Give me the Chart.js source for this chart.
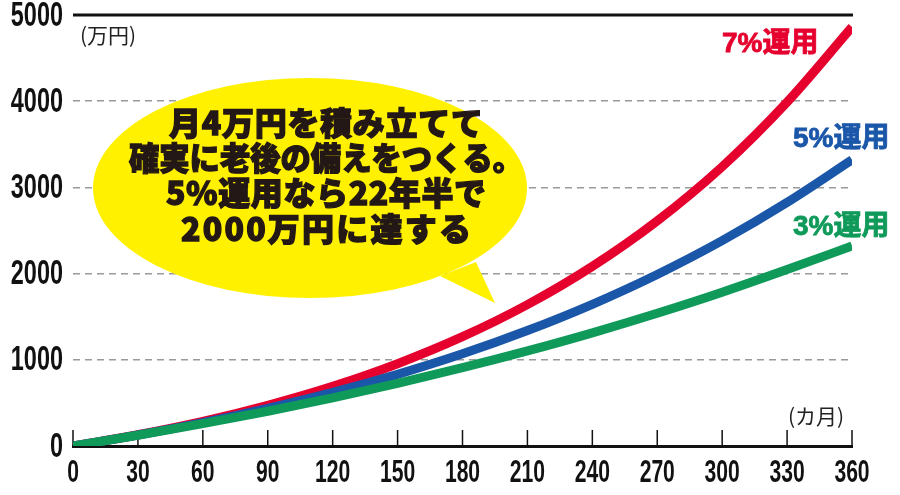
<!DOCTYPE html>
<html>
<head>
<meta charset="utf-8">
<script src="https://cdn.jsdelivr.net/npm/chart.js@4"></script>
<style>
  body { margin: 0; background: #fff; }
  canvas { display: block; }
</style>
</head>
<body>
<canvas id="chart" width="900" height="495"></canvas>
<script>
// months and balance (万円) for 40,000 yen a month
const months = [0, 30, 60, 90, 120, 150, 180, 210, 240, 270, 300, 330, 360];
const rate3 = [0, 124, 259, 403, 559, 727, 908, 1103, 1313, 1540, 1784, 2047, 2320];
const rate5 = [0, 128, 272, 436, 621, 831, 1069, 1339, 1644, 1990, 2382, 2826, 3320];
const rate7 = [0, 131, 286, 472, 692, 955, 1268, 1640, 2084, 2612, 3240, 3989, 4860];
const yTicks = [0, 1000, 2000, 3000, 4000, 5000];

const seriesNames = ['3%運用', '5%運用', '7%運用'];
const seriesColors = ['#0f9a5a', '#1b57a9', '#e5002e'];

const bubbleLines = ['月4万円を積み立てて', '確実に老後の備えをつくる。', '5%運用なら22年半で', '2000万円に達する'];

function toPoints(values) {
    return months.map((m, i) => ({ x: m, y: values[i] }));
}

// condensed bold numbers, squeezed horizontally
function narrowText(ctx, text, x, y, align, squeeze) {
    ctx.save();
    ctx.translate(x, y);
    ctx.scale(squeeze, 1);
    ctx.textAlign = align;
    ctx.fillText(text, 0, 0);
    ctx.restore();
}

// text spread out (or squeezed) to span a given width
function spreadText(ctx, text, cx, y, width) {
    ctx.letterSpacing = '0px';
    const natural = ctx.measureText(text).width;
    const n = Array.from(text).length;
    let gap = (width - natural) / (n - 1);
    if (gap < 0) {
        ctx.fillText(text, cx, y, width);
        ctx.strokeText(text, cx, y, width);
        return;
    }
    ctx.letterSpacing = gap + 'px';
    ctx.fillText(text, cx + gap / 2, y);
    ctx.strokeText(text, cx + gap / 2, y);
    ctx.letterSpacing = '0px';
}

const decor = {
    id: 'decor',
    beforeDatasetsDraw(chart) {
        const ctx = chart.ctx;
        const area = chart.chartArea;
        const y = chart.scales.y;
        const x = chart.scales.x;

        // solid top line at 5000
        ctx.save();
        ctx.strokeStyle = '#111';
        ctx.lineWidth = 3;
        ctx.beginPath();
        ctx.moveTo(area.left, y.getPixelForValue(5000));
        ctx.lineTo(area.right + 1, y.getPixelForValue(5000));
        ctx.stroke();

        // tick marks pointing up from the baseline
        ctx.lineWidth = 1.5;
        x.ticks.forEach(t => {
            const px = x.getPixelForValue(t.value);
            ctx.beginPath();
            ctx.moveTo(px, area.bottom);
            ctx.lineTo(px, area.bottom - 16);
            ctx.stroke();
        });

        // speech bubble
        ctx.fillStyle = '#fff100';
        ctx.beginPath();
        ctx.ellipse(310, 188, 217, 110, 0, 0, Math.PI * 2);
        ctx.fill();
        ctx.beginPath();
        ctx.moveTo(440, 276);
        ctx.lineTo(495, 303);
        ctx.lineTo(476, 262);
        ctx.closePath();
        ctx.fill();

        ctx.fillStyle = '#231815';
        ctx.strokeStyle = '#231815';
        ctx.lineWidth = 1.3;
        ctx.font = '900 32px "Noto Sans CJK JP"';
        ctx.textAlign = 'center';
        ctx.textBaseline = 'middle';
        const rows = [123, 158, 193, 229];
        const widths = [314, 394, 320, 290];
        bubbleLines.forEach((line, i) => spreadText(ctx, line, 326, rows[i], widths[i]));
        ctx.restore();
    },
    afterDraw(chart) {
        const ctx = chart.ctx;
        const area = chart.chartArea;
        const x = chart.scales.x;
        const y = chart.scales.y;
        ctx.save();
        ctx.textBaseline = 'middle';
        ctx.fillStyle = '#111';
        ctx.font = 'bold 35px "Liberation Sans"';
        y.ticks.forEach(t => {
            narrowText(ctx, String(t.value), 63, y.getPixelForValue(t.value) + 1, 'right', 0.67);
        });
        ctx.font = 'bold 32px "Liberation Sans"';
        x.ticks.forEach(t => {
            narrowText(ctx, String(t.value), x.getPixelForValue(t.value), area.bottom + 27, 'center', 0.66);
        });

        ctx.textAlign = 'left';
        ctx.font = 'bold 28px "Liberation Sans", "Noto Sans CJK JP"';
        const labelPos = [[793, 227], [793, 139], [722, 44]];
        seriesNames.forEach((name, i) => {
            ctx.fillStyle = seriesColors[i];
            ctx.strokeStyle = seriesColors[i];
            ctx.lineWidth = 0.8;
            ctx.fillText(name, labelPos[i][0], labelPos[i][1]);
            ctx.strokeText(name, labelPos[i][0], labelPos[i][1]);
        });
        ctx.fillStyle = '#222';
        ctx.font = '21px "Noto Sans CJK JP"';
        ctx.fillText('(万円)', 80, 35);
        ctx.fillText('(カ月)', 788, 416);
        ctx.restore();
    }
};

new Chart(document.getElementById('chart'), {
    type: 'line',
    data: {
        datasets: [
            { label: seriesNames[0], data: toPoints(rate3), borderColor: seriesColors[0], order: 1 },
            { label: seriesNames[1], data: toPoints(rate5), borderColor: seriesColors[1], order: 2 },
            { label: seriesNames[2], data: toPoints(rate7), borderColor: seriesColors[2], order: 3 }
        ]
    },
    options: {
        responsive: false,
        animation: false,
        layout: { padding: { top: 15, right: 48, left: 0, bottom: 0 } },
        elements: {
            line: { borderWidth: 9, cubicInterpolationMode: 'monotone', borderCapStyle: 'butt' },
            point: { radius: 0 }
        },
        plugins: {
            legend: { display: false },
            tooltip: { enabled: false }
        },
        scales: {
            x: {
                type: 'linear',
                min: 0,
                max: 360,
                afterFit: s => { s.height = 49; },
                afterBuildTicks: s => { s.ticks = months.map(v => ({ value: v })); },
                grid: { display: false, drawTicks: false },
                border: { display: true, color: '#111', width: 3 },
                ticks: { display: false }
            },
            y: {
                min: 0,
                max: 5000,
                afterFit: s => { s.width = 73; },
                afterBuildTicks: s => { s.ticks = yTicks.map(v => ({ value: v })); },
                grid: { color: '#9a9a9a', lineWidth: 1.5, drawTicks: false },
                border: { display: false, dash: [7, 5] },
                ticks: { display: false }
            }
        }
    },
    plugins: [decor]
});
</script>
</body>
</html>
